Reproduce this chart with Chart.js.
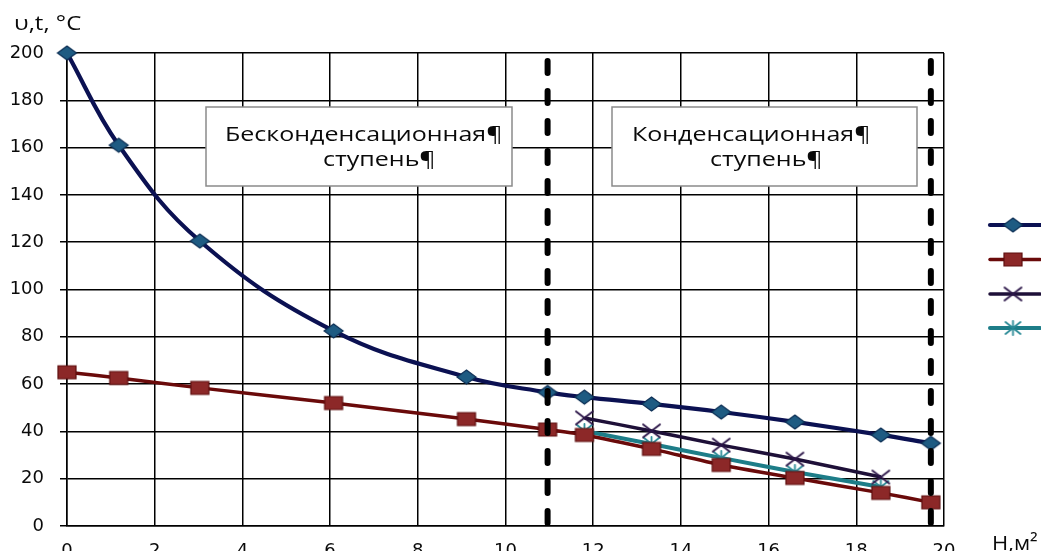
<!DOCTYPE html>
<html>
<head>
<meta charset="utf-8">
<script src="https://cdn.jsdelivr.net/npm/chart.js@4/dist/chart.umd.min.js"></script>
<style>
html,body{margin:0;padding:0;background:#fff;overflow:hidden;width:1041px;height:551px;}
#wrap{position:relative;width:1041px;height:575px;}
</style>
</head>
<body>
<div id="wrap"><canvas id="c" width="1041" height="575"></canvas></div>
<script>
// ---- data ----
const xMain = [0, 1.18, 3.03, 6.08, 9.11, 10.96, 11.8, 13.33, 14.92, 16.6, 18.56, 19.7];
const navySeries = [200, 161, 120.5, 82.5, 63, 56.5, 54.5, 51.6, 48.2, 44, 38.5, 35];
const redSeries = [65, 62.6, 58.4, 52, 45.2, 40.8, 38.5, 32.6, 25.8, 20.3, 14, 10];
const xCond = [11.8, 13.33, 14.92, 16.6, 18.56];
const purpleSeries = [45.7, 40.2, 34.2, 28.3, 20.7];
const tealSeries = [40.2, 34.7, 28.8, 22.8, 16.5];
const dividerX = [10.96, 19.7];
const xTicks = [0, 2, 4, 6, 8, 10, 12, 14, 16, 18, 20];
const yTicks = [0, 20, 40, 60, 80, 100, 120, 140, 160, 180, 200];
const yTitle = 'υ,t, °C';
const xTitle = 'H,м²';
const box1Lines = ['Бесконденсационная¶', 'ступень¶'];
const box2Lines = ['Конденсационная¶', 'ступень¶'];

const pts = (xs, ys) => xs.map((x, i) => ({x: x, y: ys[i]}));
const FONT = '"Open Sans", "DejaVu Sans", sans-serif';
const TICKFONT = '"DejaVu Sans", sans-serif';

// stretched marker images (reference markers are wider than tall)
function makeMarker(kind, w, h, fill, stroke, lw) {
  const c = document.createElement('canvas');
  c.width = w + 4; c.height = h + 4;
  const g = c.getContext('2d');
  const cx = c.width / 2, cy = c.height / 2, hw = w / 2, hh = h / 2;
  g.lineWidth = lw; g.strokeStyle = stroke; g.fillStyle = fill; g.lineCap = 'round';
  g.beginPath();
  if (kind === 'diamond') {
    g.moveTo(cx - hw, cy); g.lineTo(cx, cy - hh); g.lineTo(cx + hw, cy); g.lineTo(cx, cy + hh); g.closePath();
    g.fill(); g.stroke();
  } else if (kind === 'square') {
    g.rect(cx - hw, cy - hh, w, h); g.fill(); g.stroke();
  } else if (kind === 'x') {
    g.moveTo(cx - hw, cy - hh); g.lineTo(cx + hw, cy + hh); g.moveTo(cx - hw, cy + hh); g.lineTo(cx + hw, cy - hh); g.stroke();
  } else if (kind === 'star') {
    g.moveTo(cx - hw, cy - hh); g.lineTo(cx + hw, cy + hh); g.moveTo(cx - hw, cy + hh); g.lineTo(cx + hw, cy - hh);
    g.moveTo(cx, cy - hh - 1); g.lineTo(cx, cy + hh + 1); g.stroke();
  }
  return c;
}

const markers = [
  makeMarker('diamond', 19, 14, '#1e5b82', '#0d2f55', 1.2),
  makeMarker('square', 18, 13, '#8c2828', '#5e0f0f', 1.2),
  makeMarker('x', 17, 13, null, '#2b1548', 1.8),
  makeMarker('star', 15, 12, null, '#2a8a96', 1.8)
];
const lineColors = ['#0b1152', '#6a0a0a', '#1e1038', '#1d7d88'];
const lineWidths = [4.2, 3.5, 3.5, 4];

function ds(label, data, i, tension) {
  return {
    label: label, data: data, showLine: true, tension: tension,
    borderColor: lineColors[i], borderWidth: lineWidths[i],
    pointStyle: markers[i], pointRadius: 8, pointHoverRadius: 8,
    clip: false, inLegend: true
  };
}

const datasets = [
  ds('1', pts(xMain, navySeries), 0, 0.4),
  ds('2', pts(xMain, redSeries), 1, 0.2),
  ds('3', pts(xCond, purpleSeries), 2, 0.2),
  ds('4', pts(xCond, tealSeries), 3, 0.2)
];
dividerX.forEach(function (x) {
  datasets.unshift({
    label: 'div', data: [{x: x, y: 200}, {x: x, y: -4}], showLine: true,
    borderColor: '#000', borderWidth: 6, borderDash: [12, 18], borderDashOffset: 22, borderCapStyle: 'round',
    pointRadius: 0, clip: false, inLegend: false
  });
});

const extras = {
  id: 'extras',
  afterDraw(chart) {
    const ctx = chart.ctx;
    ctx.save();
    function stretchText(t, x, y, sx) {
      ctx.save(); ctx.translate(x, y); ctx.scale(sx, 1); ctx.fillText(t, 0, 0); ctx.restore();
    }
    function box(x1, y1, x2, y2, lines, cx, ys) {
      ctx.fillStyle = '#fff'; ctx.fillRect(x1, y1, x2 - x1, y2 - y1);
      ctx.strokeStyle = '#8a8a8a'; ctx.lineWidth = 1.5; ctx.strokeRect(x1, y1, x2 - x1, y2 - y1);
      ctx.fillStyle = '#0a0a0a'; ctx.font = '20px ' + FONT; ctx.textBaseline = 'alphabetic';
      ctx.textAlign = 'left';
      lines.forEach(function (t, i) { stretchText(t, cx[i], ys[i], 1.25); });
    }
    box(206, 107, 512, 186, box1Lines, [225, 323], [141, 166]);
    box(612, 107, 917, 186, box2Lines, [632, 710], [141, 166]);
    // titles
    ctx.fillStyle = '#0a0a0a'; ctx.font = '20px ' + FONT; ctx.textAlign = 'left';
    stretchText(yTitle, 14, 30, 1.2);
    stretchText(xTitle, 992, 550, 1.1);
    // legend
    const ly = [225, 259.5, 294, 328];
    chart.data.datasets.filter(function (d) { return d.inLegend; }).forEach(function (d, i) {
      ctx.strokeStyle = d.borderColor; ctx.lineWidth = d.borderWidth; ctx.lineCap = 'round';
      ctx.beginPath(); ctx.moveTo(990, ly[i]); ctx.lineTo(1040, ly[i]); ctx.stroke();
      const m = d.pointStyle;
      ctx.drawImage(m, 1013 - m.width / 2, ly[i] - m.height / 2);
    });
    ctx.restore();
  }
};

new Chart(document.getElementById('c'), {
  type: 'scatter',
  data: {datasets: datasets},
  plugins: [extras],
  options: {
    responsive: false, animation: false,
    layout: {padding: {top: 53, right: 97, left: 0, bottom: 0}},
    plugins: {legend: {display: false}, tooltip: {enabled: false}},
    scales: {
      x: {
        type: 'linear', min: 0, max: 20,
        afterBuildTicks: function (s) { s.ticks = xTicks.map(function (v) { return {value: v}; }); },
        afterFit: function (s) { s.height = 49; },
        grid: {color: '#000', lineWidth: 1.5, drawTicks: false},
        border: {color: '#000', width: 1.5},
        ticks: {color: '#0a0a0a', font: {family: TICKFONT, size: 18}, padding: 15, maxRotation: 0}
      },
      y: {
        type: 'linear', min: 0, max: 200,
        afterBuildTicks: function (s) { s.ticks = yTicks.map(function (v) { return {value: v}; }); },
        afterFit: function (s) { s.width = 67; },
        grid: {color: '#000', lineWidth: 1.5, tickLength: 7},
        border: {color: '#000', width: 1.5},
        ticks: {color: '#0a0a0a', font: {family: TICKFONT, size: 18}, padding: 16}
      }
    }
  }
});
</script>
</body>
</html>
